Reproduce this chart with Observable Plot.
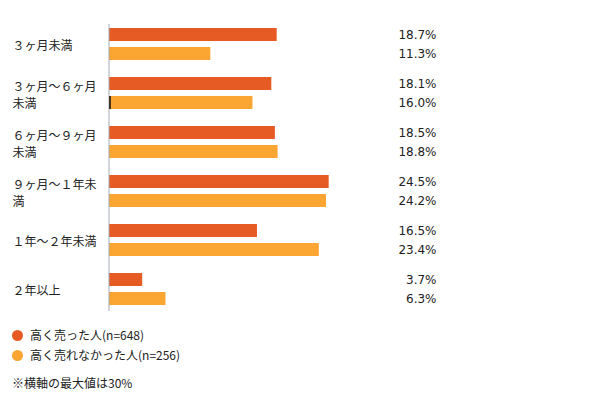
<!DOCTYPE html>
<html><head><meta charset="utf-8">
<script src="https://cdn.jsdelivr.net/npm/d3@7"></script>
<script src="https://cdn.jsdelivr.net/npm/@observablehq/plot@0.6"></script>
<style>
body{margin:0;background:#fff;font-family:"Noto Sans CJK JP",sans-serif;color:#222;}
#wrap{position:relative;width:603px;height:409px;}
#legend{position:absolute;left:12px;top:325px;font-size:12px;line-height:20px;}
.item{display:flex;align-items:center;height:20px;}
.dot{width:11px;height:11px;border-radius:50%;margin-right:7px;}
#note{position:absolute;left:12px;top:374px;font-size:12px;}
</style></head>
<body><div id="wrap"><div id="chart"></div>
<div id="legend"></div><div id="note">※横軸の最大値は30%</div></div>
<script>
const categories = ["３ヶ月未満","３ヶ月～６ヶ月\n未満","６ヶ月～９ヶ月\n未満","９ヶ月～１年未\n満","１年～２年未満","２年以上"];
const seriesNames = ["高く売った人(n=648)","高く売れなかった人(n=256)"];
const soldHigh = [18.7,18.1,18.5,24.5,16.5,3.7];
const notSoldHigh = [11.3,16.0,18.8,24.2,23.4,6.3];
const colors = ["#E65A24","#FBA532"];
const xMax = 30;

const data = [];
categories.forEach((c,i)=>{
  data.push({cat:c, s:seriesNames[0], v:soldHigh[i]});
  data.push({cat:c, s:seriesNames[1], v:notSoldHigh[i]});
});
const first = categories[0], last = categories[categories.length-1];

const chart = Plot.plot({
  width:603, height:320,
  marginLeft:109, marginRight:225, marginTop:18, marginBottom:4,
  style:{fontFamily:"'Noto Sans CJK JP', sans-serif", background:"#fff"},
  x:{domain:[0,xMax], axis:null},
  y:{domain:seriesNames, axis:null, paddingInner:0.3, paddingOuter:0.39},
  fy:{domain:categories, axis:null, padding:0},
  color:{domain:seriesNames, range:colors},
  marks:[
    Plot.barX(data,{fy:"cat", y:"s", x:"v", fill:"s"}),
    Plot.text(data,{fy:"cat", y:"s", text:d=>d.v.toFixed(1)+"%", frameAnchor:"right", dx:58, textAnchor:"end",
      fontFamily:"'DejaVu Sans', sans-serif", fontSize:12, fill:"#222"}),
    Plot.text(categories,{fy:d=>d, text:d=>d, frameAnchor:"left", dx:-97, textAnchor:"start", fontSize:12, lineHeight:1.4, fill:"#222"}),
    Plot.tickX(categories.filter(c=>c===first),{fy:d=>d, x:()=>0, stroke:"#A3AAB2", strokeWidth:1, insetTop:4, dx:-0.5}),
    Plot.tickX(categories.filter(c=>c!==first && c!==last),{fy:d=>d, x:()=>0, stroke:"#A3AAB2", strokeWidth:1, dx:-0.5}),
    Plot.tickX(categories.filter(c=>c===last),{fy:d=>d, x:()=>0, stroke:"#A3AAB2", strokeWidth:1, insetBottom:3, dx:-0.5}),
    Plot.tickX([{cat:categories[1], s:seriesNames[1], v:0}],{fy:"cat", y:"s", x:"v", stroke:"#111", strokeWidth:1.5, dx:0.5})
  ]
});
document.getElementById("chart").appendChild(chart);

const leg = document.getElementById("legend");
seriesNames.forEach((n,i)=>{
  const it=document.createElement("div"); it.className="item";
  it.innerHTML=`<span class="dot" style="background:${colors[i]}"></span><span>${n}</span>`;
  leg.appendChild(it);
});
</script></body></html>
